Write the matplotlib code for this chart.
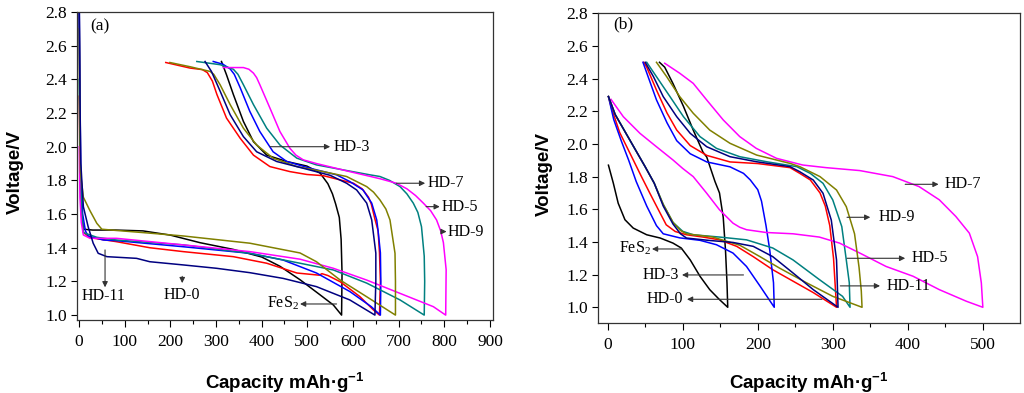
import matplotlib

matplotlib.use("Agg")

import matplotlib.pyplot as plt
from matplotlib.ticker import MultipleLocator

matplotlib.rcParams["font.family"] = "serif"
matplotlib.rcParams["font.serif"] = ["Liberation Serif", "DejaVu Serif"]
matplotlib.rcParams["mathtext.fontset"] = "custom"
matplotlib.rcParams["mathtext.rm"] = "Liberation Sans:bold"
matplotlib.rcParams["mathtext.bf"] = "Liberation Sans:bold"

# (capacity mAh/g, voltage V); discharge then charge
# ---- panel (a) ----
a_fes2 = [(0.5, 2.82), (1.5, 2.3), (3, 1.8), (6, 1.6), (10, 1.51), (30, 1.505),
          (80, 1.505), (140, 1.50), (200, 1.475), (265, 1.43), (338, 1.39),
          (400, 1.345), (440, 1.29), (484, 1.21), (528, 1.12), (557, 1.06),
          (575, 1.0), (576, 1.25), (574, 1.45), (570, 1.58), (562, 1.66),
          (555, 1.72), (545, 1.78), (528, 1.843), (499, 1.885), (455, 1.912),
          (411, 1.95), (382, 2.03), (360, 2.15), (338, 2.31), (323, 2.427),
          (312, 2.506)]
a_hd0 = [(0.5, 2.3), (2, 1.9), (5, 1.6), (10, 1.49), (24, 1.46), (82, 1.436),
         (155, 1.40), (228, 1.377), (338, 1.347), (411, 1.308), (477, 1.25),
         (526, 1.237), (532, 1.246), (545, 1.235), (572, 1.198), (615, 1.11),
         (645, 1.03), (658, 1.0), (660, 1.2), (658, 1.37), (655, 1.5),
         (648, 1.57), (640, 1.66), (634, 1.70), (620, 1.75), (601, 1.783),
         (557, 1.813), (535, 1.828), (499, 1.835), (462, 1.852), (418, 1.882),
         (382, 1.95), (353, 2.05), (323, 2.17), (302, 2.31), (292, 2.39),
         (281, 2.44), (270, 2.458), (243, 2.467), (190, 2.5)]
a_hd3 = [(0.5, 2.85), (2, 2.3), (4, 1.8), (8, 1.6), (14, 1.5), (20, 1.47),
         (53, 1.446), (82, 1.442), (228, 1.406), (374, 1.367), (447, 1.327),
         (520, 1.25), (593, 1.14), (640, 1.05), (660, 1.0), (661, 1.2),
         (660, 1.37), (655, 1.5), (652, 1.565), (641, 1.665), (622, 1.743),
         (593, 1.793), (564, 1.833), (506, 1.872), (455, 1.912), (425, 1.97),
         (396, 2.09), (374, 2.21), (353, 2.35), (340, 2.43), (331, 2.462),
         (315, 2.49), (294, 2.506)]
a_hd5 = [(0.5, 2.4), (2, 2.0), (5, 1.65), (9.5, 1.49), (39, 1.462), (82, 1.446),
         (228, 1.417), (374, 1.367), (484, 1.308), (557, 1.268), (630, 1.19),
         (703, 1.09), (756, 1.0), (757, 1.2), (756, 1.35), (750, 1.525),
         (742, 1.61), (732, 1.665), (718, 1.72), (703, 1.763), (680, 1.80),
         (659, 1.823), (637, 1.833), (579, 1.862), (520, 1.892), (477, 1.932),
         (440, 2.01), (411, 2.11), (382, 2.25), (360, 2.368), (348, 2.43),
         (338, 2.46), (309, 2.487), (258, 2.506)]
a_hd7 = [(0.5, 2.0), (2, 1.7), (5, 1.55), (9.5, 1.476), (24, 1.456), (82, 1.456),
         (228, 1.417), (374, 1.377), (484, 1.332), (557, 1.278), (630, 1.208),
         (703, 1.129), (776, 1.05), (803, 1.0), (804, 1.27), (798, 1.43),
         (792, 1.50), (783, 1.565), (770, 1.62), (754, 1.665), (737, 1.71),
         (718, 1.75), (695, 1.783), (659, 1.81), (593, 1.852), (520, 1.90),
         (491, 1.922), (475, 1.95), (462, 1.99), (440, 2.09), (418, 2.23),
         (396, 2.368), (389, 2.41), (382, 2.437), (372, 2.46), (360, 2.47),
         (316, 2.47)]
a_hd9 = [(0.5, 2.7), (1.5, 2.2), (3, 1.85), (9.5, 1.70), (24, 1.62), (39, 1.545),
         (50, 1.51), (80, 1.503), (140, 1.49), (228, 1.47), (374, 1.427),
         (484, 1.369), (520, 1.317), (572, 1.208), (630, 1.109), (693, 1.0),
         (693, 1.2), (692, 1.367), (681, 1.565), (672, 1.63), (659, 1.684),
         (645, 1.73), (630, 1.763), (586, 1.823), (535, 1.852), (477, 1.882),
         (425, 1.932), (389, 2.01), (360, 2.11), (331, 2.25), (309, 2.368),
         (295, 2.43), (287, 2.447), (243, 2.475), (199, 2.5)]
a_hd11 = [(0.5, 2.85), (2, 2.3), (4, 1.9), (9.5, 1.644), (20, 1.525), (31, 1.427),
          (42, 1.367), (61, 1.347), (126, 1.337), (155, 1.317), (228, 1.298),
          (301, 1.278), (374, 1.252), (447, 1.218), (520, 1.169), (593, 1.09),
          (648, 1.0), (650, 1.2), (650, 1.368), (641, 1.565), (630, 1.665),
          (608, 1.743), (586, 1.783), (550, 1.83), (491, 1.872), (433, 1.912),
          (389, 1.97), (360, 2.06), (331, 2.19), (309, 2.33), (290, 2.447),
          (276, 2.506)]

# ---- panel (b) ----
b_fes2 = [(1, 1.87), (7.5, 1.76), (14, 1.637), (23, 1.536), (34, 1.485),
          (52, 1.444), (70, 1.424), (87, 1.393), (98, 1.363), (110, 1.29),
          (123, 1.19), (136, 1.108), (149, 1.047), (160, 1.0), (159, 1.15),
          (157, 1.35), (154, 1.55), (149, 1.70), (143, 1.77), (132, 1.92),
          (127, 1.95), (114, 2.085), (101, 2.23), (87, 2.37), (76, 2.47),
          (69, 2.5)]
b_hd0 = [(1, 2.29), (5, 2.22), (16, 2.07), (30, 1.94), (45, 1.80), (56, 1.70),
         (65, 1.62), (78, 1.505), (90, 1.464), (105, 1.444), (127, 1.43),
         (149, 1.413), (172, 1.373), (194, 1.31), (220, 1.23), (247, 1.16),
         (274, 1.09), (305, 1.0), (303, 1.15), (301, 1.3), (296, 1.5),
         (290, 1.62), (283, 1.70), (270, 1.78), (256, 1.82), (243, 1.855),
         (200, 1.88), (163, 1.89), (132, 1.93), (110, 1.99), (92, 2.085),
         (79, 2.19), (65, 2.33), (52, 2.47), (48, 2.5)]
b_hd3 = [(1, 2.29), (8, 2.15), (18, 2.02), (28, 1.9), (38, 1.77), (52, 1.62),
         (65, 1.50), (74, 1.45), (96, 1.425), (123, 1.41), (145, 1.383),
         (167, 1.332), (185, 1.25), (203, 1.13), (222, 1.0), (221, 1.15),
         (216, 1.35), (211, 1.50), (205, 1.65), (200, 1.72), (190, 1.78),
         (181, 1.82), (163, 1.86), (132, 1.89), (110, 1.94), (92, 2.02),
         (79, 2.13), (65, 2.27), (54, 2.41), (47, 2.5)]
b_hd5 = [(1, 2.29), (10, 2.18), (20, 2.1), (35, 1.98), (50, 1.86), (62, 1.76),
         (74, 1.63), (87, 1.52), (100, 1.465), (114, 1.444), (149, 1.43),
         (185, 1.413), (220, 1.363), (247, 1.29), (282, 1.17), (313, 1.067),
         (323, 1.0), (322, 1.15), (318, 1.29), (312, 1.494), (300, 1.657),
         (287, 1.759), (270, 1.82), (252, 1.861), (212, 1.891), (176, 1.922),
         (145, 1.973), (123, 2.045), (101, 2.167), (83, 2.29), (65, 2.412),
         (52, 2.5)]
b_hd7 = [(4.4, 2.273), (20.8, 2.167), (43, 2.065), (65, 1.983), (87, 1.902),
         (100, 1.85), (114, 1.80), (132, 1.698), (149, 1.597), (167, 1.515),
         (176, 1.49), (185, 1.475), (211, 1.458), (247, 1.45), (282, 1.43),
         (309, 1.393), (336, 1.332), (371, 1.25), (407, 1.19), (442, 1.108),
         (478, 1.037), (500, 1.0), (498, 1.149), (493, 1.31), (482, 1.454),
         (464, 1.556), (442, 1.658), (415, 1.739), (380, 1.80), (336, 1.837),
         (291, 1.855), (260, 1.871), (225, 1.912), (198, 1.973), (176, 2.045),
         (154, 2.147), (132, 2.269), (114, 2.371), (96, 2.433), (76, 2.494)]
b_hd9 = [(1, 2.29), (10, 2.18), (20, 2.1), (35, 1.98), (50, 1.86), (62, 1.76),
         (74, 1.63), (87, 1.52), (97, 1.47), (105, 1.45), (140, 1.43),
         (176, 1.38), (203, 1.31), (229, 1.24), (265, 1.15), (300, 1.067),
         (339, 1.0), (338, 1.1), (335, 1.245), (329, 1.45), (318, 1.616),
         (305, 1.718), (283, 1.80), (256, 1.861), (243, 1.881), (198.5, 1.932),
         (163, 2.004), (136, 2.085), (114, 2.188), (96, 2.29), (78.6, 2.412),
         (65, 2.5)]
b_hd11 = [(1, 2.29), (10, 2.18), (20, 2.1), (35, 1.98), (50, 1.86), (62, 1.76),
          (74, 1.62), (87, 1.51), (97, 1.45), (105, 1.424), (136, 1.409),
          (167, 1.397), (194, 1.373), (220, 1.31), (247, 1.21), (274, 1.108),
          (307, 1.0), (306, 1.15), (305, 1.29), (298, 1.534), (287, 1.698),
          (274, 1.779), (256, 1.83), (243, 1.861), (198.5, 1.891), (163, 1.922),
          (132, 1.983), (110, 2.065), (92, 2.167), (74, 2.29), (61, 2.412),
          (50, 2.5)]

colors = {"FeS2": "#000000", "HD-0": "#ff0000", "HD-3": "#0000ff",
          "HD-5": "#008080", "HD-7": "#ff00ff", "HD-9": "#808000",
          "HD-11": "#000080"}

curves_a = {"FeS2": a_fes2, "HD-0": a_hd0, "HD-3": a_hd3, "HD-5": a_hd5,
            "HD-7": a_hd7, "HD-9": a_hd9, "HD-11": a_hd11}
curves_b = {"FeS2": b_fes2, "HD-0": b_hd0, "HD-3": b_hd3, "HD-5": b_hd5,
            "HD-7": b_hd7, "HD-9": b_hd9, "HD-11": b_hd11}

fig = plt.figure(figsize=(10.24, 3.93), dpi=100)
ax_a = fig.add_axes([0.0752, 0.1858, 0.4062, 0.7837])
ax_b = fig.add_axes([0.584, 0.178, 0.412, 0.789])

label_font = dict(family="Liberation Sans", weight="bold", size=13.5)
arrow_kw = dict(arrowstyle="-|>", color="#333333", lw=0.8, mutation_scale=8,
                shrinkA=0, shrinkB=0)


def arrow(ax, tail, head, text=None, text_xy=None, ha="left"):
    ax.annotate("", xy=head, xytext=tail, arrowprops=arrow_kw)
    if text:
        ax.text(text_xy[0], text_xy[1], text, fontsize=11.5, ha=ha, va="center")


for ax, curves in ((ax_a, curves_a), (ax_b, curves_b)):
    for name, pts in curves.items():
        x = [p[0] for p in pts]
        y = [p[1] for p in pts]
        ax.plot(x, y, color=colors[name], lw=1.1, solid_joinstyle="round")
    ax.set_yticks([1.0 + 0.2 * i for i in range(10)])
    ax.yaxis.set_major_formatter(matplotlib.ticker.FormatStrFormatter("%.1f"))
    ax.xaxis.set_major_locator(MultipleLocator(100))
    ax.xaxis.set_minor_locator(MultipleLocator(50))
    ax.tick_params(axis="x", which="major", direction="out", length=5, width=0.8,
                   pad=5, labelsize=12.5, top=False)
    ax.tick_params(axis="x", which="minor", direction="out", length=3, width=0.8,
                   top=False)
    ax.tick_params(axis="y", which="major", direction="out", length=4, width=0.8,
                   pad=3, labelsize=12.5, right=False)
    for s in ax.spines.values():
        s.set_linewidth(0.9)
        s.set_color("#333333")
    ax.set_xlabel(r"Capacity mAh·g$^{-1}$", **label_font)
    ax.set_ylabel("Voltage/V", **label_font)

ax_a.set_xlim(-4.4, 906.5)
ax_a.set_ylim(0.971, 2.8)
ax_b.set_xlim(-12.9, 549.4)
ax_b.set_ylim(0.9035, 2.802)

ax_a.xaxis.set_label_coords(0.5, -0.162)
ax_a.yaxis.set_label_coords(-0.128, 0.48)
ax_b.xaxis.set_label_coords(0.5, -0.152)
ax_b.yaxis.set_label_coords(-0.106, 0.48)

ax_a.text(25, 2.714, "(a)", fontsize=12.5, va="center")
ax_b.text(8, 2.73, "(b)", fontsize=12.5, va="center")

# panel (a) annotations
arrow(ax_a, (418, 2.0), (550, 2.0), "HD-3", (558, 2.0))
arrow(ax_a, (695, 1.783), (758, 1.783), "HD-7", (763, 1.783))
arrow(ax_a, (760, 1.644), (790, 1.644), "HD-5", (793, 1.644))
arrow(ax_a, (795, 1.496), (805, 1.496), "HD-9", (807, 1.496))
arrow(ax_a, (57, 1.387), (57, 1.165), "HD-11", (53, 1.112), ha="center")
arrow(ax_a, (226, 1.23), (226, 1.19), "HD-0", (226, 1.122), ha="center")
arrow(ax_a, (564, 1.066), (484, 1.066), "FeS$_\\mathregular{2}$", (481, 1.07), ha="right")

# panel (b) annotations
arrow(ax_b, (396.5, 1.753), (441, 1.753), "HD-7", (449, 1.753))
arrow(ax_b, (319, 1.551), (350, 1.551), "HD-9", (361, 1.551))
arrow(ax_b, (319, 1.30), (396.5, 1.30), "HD-5", (405, 1.30))
arrow(ax_b, (310, 1.131), (363, 1.131), "HD-11", (372, 1.131))
arrow(ax_b, (285.5, 1.049), (105.7, 1.049), "HD-0", (101, 1.049), ha="right")
arrow(ax_b, (181, 1.198), (99, 1.198), "HD-3", (94.6, 1.198), ha="right")
arrow(ax_b, (99, 1.357), (59, 1.357), "FeS$_\\mathregular{2}$", (57, 1.36), ha="right")

fig.savefig("out.png", dpi=100, facecolor="white")
